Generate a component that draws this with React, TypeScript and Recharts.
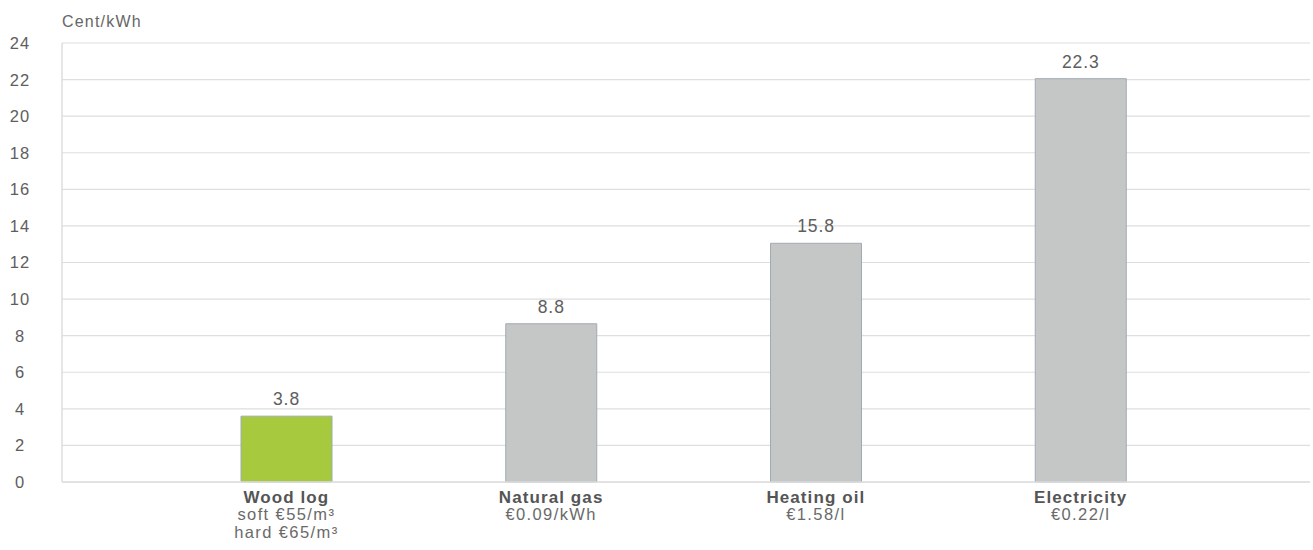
import React from 'react';
import {
  BarChart,
  Bar,
  XAxis,
  YAxis,
  CartesianGrid,
  Cell,
  LabelList,
} from 'recharts';

// heating cost per kWh, by fuel
const categories = ['Wood log', 'Natural gas', 'Heating oil', 'Electricity'];
const priceNotes = [
  ['soft €55/m³', 'hard €65/m³'],
  ['€0.09/kWh'],
  ['€1.58/l'],
  ['€0.22/l'],
];
// bar heights as drawn (the printed labels differ from them)
const barValues = [3.6, 8.65, 13.05, 22.05];
const valueLabels = ['3.8', '8.8', '15.8', '22.3'];
const yTicks = [0, 2, 4, 6, 8, 10, 12, 14, 16, 18, 20, 22, 24];
const unitLabel = 'Cent/kWh';

const FONT = "'Liberation Sans', Arial, Helvetica, sans-serif";
const GRID = '#dedede';
const GREEN = '#a6c93d';
const GREY = '#c5c7c6';
const BAR_STROKE = '#9eabb3';

const data = categories.map((name, i) => ({
  name,
  value: barValues[i],
  label: valueLabels[i],
}));

function CategoryTick(props: any) {
  const { x, y, index } = props;
  const notes = priceNotes[index] || [];
  return (
    <g transform={`translate(${x},${y})`}>
      <text
        x={0}
        y={21}
        textAnchor="middle"
        fontFamily={FONT}
        fontSize={17}
        fontWeight="bold"
        letterSpacing={1.1}
        fill="#555"
      >
        {categories[index]}
      </text>
      {notes.map((n, k) => (
        <text
          key={k}
          x={0}
          y={38 + k * 18}
          textAnchor="middle"
          fontFamily={FONT}
          fontSize={16.5}
          letterSpacing={1.4}
          fill="#6a6a6a"
        >
          {n}
        </text>
      ))}
    </g>
  );
}

function ValueTick(props: any) {
  const { y, payload } = props;
  return (
    <text
      x={20}
      y={y}
      dy="0.36em"
      textAnchor="middle"
      fontFamily={FONT}
      fontSize={16.5}
      letterSpacing={1}
      fill="#5e5e5e"
    >
      {payload.value}
    </text>
  );
}

export default function App() {
  return (
    <div style={{ position: 'absolute', left: 0, top: 0, background: '#fff' }}>
      <BarChart
        width={1313}
        height={550}
        data={data}
        margin={{ top: 43, right: 3, bottom: 0, left: 0 }}
      >
        <CartesianGrid vertical={false} stroke={GRID} strokeWidth={1.2} />
        <XAxis
          dataKey="name"
          height={68}
          padding={{ left: 92, right: 97 }}
          axisLine={{ stroke: GRID, strokeWidth: 1.5 }}
          tickLine={false}
          tickSize={0}
          tickMargin={0}
          interval={0}
          tick={<CategoryTick />}
        />
        <YAxis
          width={62}
          domain={[0, 24]}
          ticks={yTicks}
          interval={0}
          axisLine={{ stroke: GRID, strokeWidth: 1.5 }}
          tickLine={false}
          tick={<ValueTick />}
          label={{
            content: (p: any) => {
              const vb = p.viewBox || {};
              return (
                <text
                  x={(vb.x || 0) + (vb.width || 0)}
                  y={(vb.y || 0) - 16}
                  fontFamily={FONT}
                  fontSize={16}
                  letterSpacing={1.2}
                  fill="#666"
                >
                  {unitLabel}
                </text>
              );
            },
          }}
        />
        <Bar
          dataKey="value"
          barSize={91}
          stroke={BAR_STROKE}
          strokeWidth={1}
          isAnimationActive={false}
        >
          {data.map((d, i) => (
            <Cell key={d.name} fill={i === 0 ? GREEN : GREY} />
          ))}
          <LabelList
            dataKey="label"
            position="top"
            offset={11}
            fontFamily={FONT}
            fontSize={17.5}
            letterSpacing={0.9}
            fill="#5e5e5e"
          />
        </Bar>
      </BarChart>
    </div>
  );
}
